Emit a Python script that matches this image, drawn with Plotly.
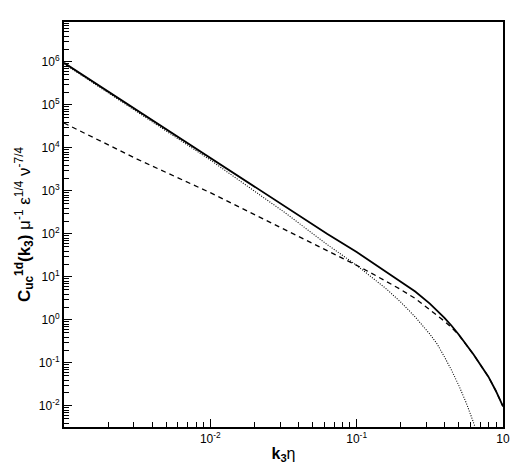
import plotly.graph_objects as go

# log10(k3*eta) sample positions
log_k = [-3.0, -2.5, -2.0, -1.5, -1.2, -1.0, -0.9, -0.8, -0.7, -0.6, -0.5, -0.4, -0.35, -0.3, -0.2, -0.1, -0.05, 0.0]
# log10 values of the solid curve
solid_log = [5.98, 4.87, 3.76, 2.65, 2.00, 1.58, 1.35, 1.13, 0.90, 0.66, 0.38, 0.05, -0.14, -0.35, -0.81, -1.32, -1.64, -2.01]
# log10 values of the dashed curve
dashed_log = [4.58, 3.74, 2.96, 2.12, 1.60, 1.27, 1.09, 0.90, 0.71, 0.50, 0.24, -0.03, -0.18, -0.36, -0.81, -1.32, -1.64, -2.01]

# dotted curve
dot_log_k = [-3.0, -2.5, -2.0, -1.5, -1.2, -1.0, -0.9, -0.8, -0.7, -0.6, -0.5, -0.45, -0.4, -0.35, -0.3, -0.25, -0.2, -0.15]
dotted_log = [5.96, 4.84, 3.72, 2.52, 1.75, 1.27, 1.01, 0.73, 0.42, 0.07, -0.33, -0.56, -0.86, -1.18, -1.54, -1.94, -2.40, -2.92]

x_tickvals = [0.01, 0.1, 1]
x_ticktext = ["10<sup>-2</sup>", "10<sup>-1</sup>", "10"]
y_exps = [-2, -1, 0, 1, 2, 3, 4, 5, 6]

k = [10 ** v for v in log_k]
kd = [10 ** v for v in dot_log_k]
solid = [10 ** v for v in solid_log]
dashed = [10 ** v for v in dashed_log]
dotted = [10 ** v for v in dotted_log]

fig = go.Figure()
fig.add_trace(go.Scatter(x=k, y=solid, mode="lines", line=dict(color="black", width=1.8), showlegend=False))
fig.add_trace(go.Scatter(x=k, y=dashed, mode="lines", line=dict(color="black", width=1.3, dash="5px,4px"), showlegend=False))
fig.add_trace(go.Scatter(x=kd, y=dotted, mode="lines", line=dict(color="black", width=1.1, dash="1px,1.5px"), showlegend=False))

font = "Liberation Sans, Arial, sans-serif"
fig.update_layout(
    width=518, height=468,
    margin=dict(l=64, r=8, t=22, b=38),
    paper_bgcolor="white", plot_bgcolor="white",
    font=dict(family=font, size=12, color="black"),
    xaxis=dict(
        type="log", range=[-3, 0],
        showline=True, linecolor="black", linewidth=2, mirror=True,
        showgrid=False, zeroline=False,
        ticks="inside", ticklen=8, tickwidth=1, tickcolor="black",
        tickvals=x_tickvals, ticktext=x_ticktext,
        tickfont=dict(size=12),
        minor=dict(ticks="inside", ticklen=5, tickwidth=1, tickcolor="black", dtick="D1", showgrid=False),
        title=dict(text="<b>k<sub>3</sub></b>η", font=dict(size=16), standoff=2),
    ),
    yaxis=dict(
        type="log", range=[-2.49, 6.93],
        showline=True, linecolor="black", linewidth=2, mirror=True,
        showgrid=False, zeroline=False,
        ticks="inside", ticklen=8, tickwidth=1, tickcolor="black",
        tickvals=[10 ** e for e in y_exps],
        ticktext=["10<sup>%d</sup>" % e for e in y_exps],
        tickfont=dict(size=12),
        minor=dict(ticks="inside", ticklen=5, tickwidth=1, tickcolor="black", dtick="D1", showgrid=False),
        title=dict(text="<b>C<sub>uc</sub><sup>1d</sup>(k<sub>3</sub>)</b> μ<sup>-1</sup> ε<sup>1/4</sup> ν<sup>-7/4</sup>",
                   font=dict(size=17), standoff=4),
    ),
)

fig.write_html("out.html")
